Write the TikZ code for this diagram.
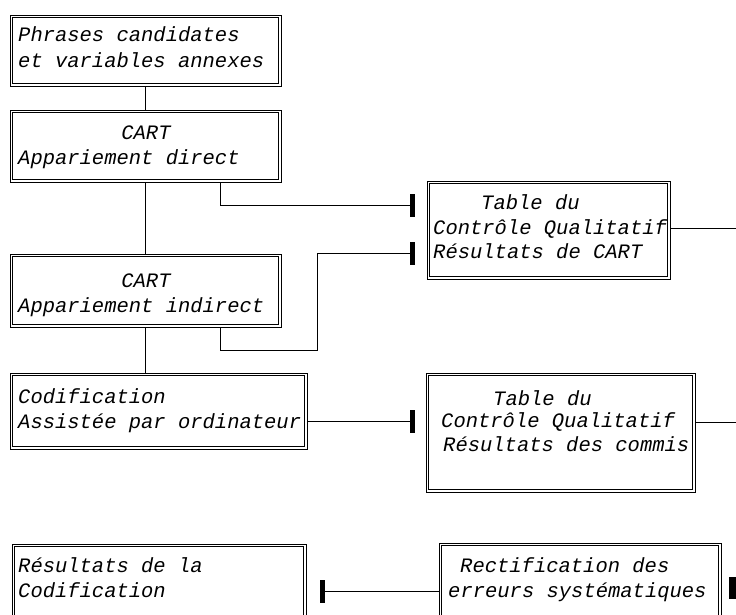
\documentclass[tikz,border=0pt]{standalone}
\usepackage{fontspec}
\setmonofont{Liberation Mono}
\begin{document}
\begin{tikzpicture}[x=1pt,y=-1pt,
  box/.style={draw, line width=0.7pt, rectangle, inner sep=0pt, outer sep=0pt, anchor=north west},
  inner/.style={line width=0.7pt},
  txt/.style={font=\ttfamily\itshape\fontsize{20.5}{25}\selectfont, inner sep=0pt, anchor=base west},
  ctxt/.style={font=\ttfamily\itshape\fontsize{20.5}{25}\selectfont, inner sep=0pt, anchor=base},
  bar/.style={fill=black, draw=none, inner sep=0pt, outer sep=0pt, minimum width=5pt, minimum height=23pt},
  conn/.style={line width=0.8pt}]
\useasboundingbox (0,0) rectangle (736,614);
\clip (0,0) rectangle (736,614);
\fill[white] (0,0) rectangle (736,614);

% boxes
\node[box, minimum width=271pt, minimum height=71pt] (b1) at (10,15) {};
\node[box, minimum width=271pt, minimum height=72pt] (b2) at (10,110) {};
\node[box, minimum width=271pt, minimum height=73pt] (b3) at (10,254) {};
\node[box, minimum width=297pt, minimum height=76pt] (b4) at (10,373) {};
\node[box, minimum width=243pt, minimum height=98pt] (b5) at (427,181) {};
\node[box, minimum width=269pt, minimum height=119pt] (b6) at (426,373) {};
\node[box, minimum width=294pt, minimum height=80pt] (b7) at (12,544) {};
\node[box, minimum width=282pt, minimum height=80pt] (b8) at (439,543) {};
\foreach \n in {b1,b2,b3,b4,b5,b6,b7,b8}
  \draw[inner] ([shift={(2.4pt,-2.4pt)}]\n.north west) rectangle ([shift={(-2.4pt,2.4pt)}]\n.south east);

% texts
\node[txt] (t1a) at (18,41) {Phrases candidates};
\node[txt] (t1b) at (18,67) {et variables annexes};
\node[ctxt] (t2a) at (146,139) {CART};
\node[txt] (t2b) at (18,164) {Appariement direct};
\node[ctxt] (t3a) at (146,287) {CART};
\node[txt] (t3b) at (18,312) {Appariement indirect};
\node[txt] (t4a) at (18,403) {Codification};
\node[txt] (t4b) at (18,428) {Assistée par ordinateur};
\node[txt] (t5a) at (481,209) {Table du};
\node[txt] (t5b) at (433,234) {Contrôle Qualitatif};
\node[txt] (t5c) at (433,258) {Résultats de CART};
\node[txt] (t6a) at (493,405) {Table du};
\node[txt] (t6b) at (441,427) {Contrôle Qualitatif};
\node[txt] (t6c) at (443,451) {Résultats des commis};
\node[txt] (t7a) at (18,572) {Résultats de la};
\node[txt] (t7b) at (18,597) {Codification};
\node[txt] (t8a) at (460,572) {Rectification des};
\node[txt] (t8b) at (448,597) {erreurs systématiques};

% bars
\node[bar] (bar1) at (412.5,205) {};
\node[bar] (bar2) at (412.5,253) {};
\node[bar] (bar3) at (412.5,421) {};
\node[bar] (bar4) at (322.5,591) {};
\node[bar, minimum width=7pt, minimum height=22pt] (bar5) at (732.5,588) {};

\coordinate (r1) at (740,228);
\coordinate (r2) at (740,422);

% connectors
\draw[conn] (b1.south) -- (b2.north);
\draw[conn] (b2.south) -- (b3.north);
\draw[conn] (b3.south) -- (b3.south |- b4.north);
\draw[conn] ([xshift=74.5pt]b2.south) |- (bar1.west);
\draw[conn] ([xshift=74.5pt]b3.south) |- ++(97,23) |- (bar2.west);
\draw[conn] (bar3.west -| b4.east) -- (bar3.west);
\draw[conn] (r1 -| b5.east) -- (r1);
\draw[conn] (r2 -| b6.east) -- (r2);
\draw[conn] (bar4.east) -- (bar4.east -| b8.west);
\end{tikzpicture}
\end{document}
